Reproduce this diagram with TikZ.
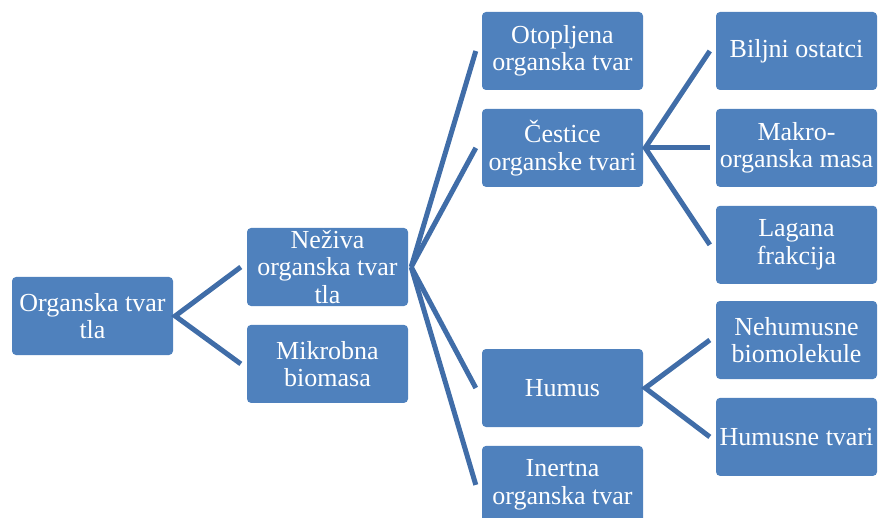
\documentclass[tikz,border=0pt]{standalone}
\usepackage{fontspec}
\setmainfont{Liberation Serif}
\usetikzlibrary{positioning}
\definecolor{boxblue}{RGB}{79,129,189}
\definecolor{lineblue}{RGB}{64,109,168}

\begin{document}
\begin{tikzpicture}
[
x=1pt, y=1pt,
block/.style ={rectangle, fill=boxblue, text=white, align=center, rounded corners=4pt, minimum width=161pt, minimum height=78pt, inner sep=1pt, font=\fontsize{26}{27.5}\selectfont},
line/.style  ={draw=lineblue, line width=5pt},
node distance = 18.5pt
]
\useasboundingbox (0,0) rectangle (882,517);
\clip (0,0) rectangle (882,517);

\node[block] (soil) at (92.5,201) {Organska tvar\\tla};

\node[block] (nonliving) at (327.5,250) {Neživa\\organska tvar\\tla};
\node[block, below=of nonliving] (microbial) {Mikrobna\\biomasa};

\node[block] (dissolved) at (562.5,466) {Otopljena\\organska tvar};
\node[block, below=of dissolved] (particles) {Čestice\\organske tvari};
\node[block] (humus) at (562.5,129) {Humus};
\node[block, below=of humus] (inert) {Inertna\\organska tvar};

\node[block] (residues) at (796.5,466) {Biljni ostatci};
\node[block, below=of residues] (macro) {Makro-\\organska masa};
\node[block, below=of macro] (light) {Lagana\\frakcija};
\node[block] (nonhumic) at (796.5,177) {Nehumusne\\biomolekule};
\node[block, below=of nonhumic] (humic) {Humusne tvari};

\path[line] ([xshift=-6pt]nonliving.west) -- ([xshift=2pt]soil.east) -- ([xshift=-6pt]microbial.west);

\path[line] ([xshift=-6pt]dissolved.west) -- ([xshift=3pt]nonliving.east);
\path[line] ([xshift=-6pt]particles.west) -- ([xshift=3pt]nonliving.east);
\path[line] ([xshift=-6pt]humus.west) -- ([xshift=3pt]nonliving.east);
\path[line] ([xshift=-6pt]inert.west) -- ([xshift=3pt]nonliving.east);

\path[line] ([xshift=-6pt]residues.west) -- ([xshift=2pt]particles.east) -- ([xshift=-6pt]light.west);
\path[line] ([xshift=2pt]particles.east) -- ([xshift=-6pt]macro.west);

\path[line] ([xshift=-6pt]nonhumic.west) -- ([xshift=2pt]humus.east) -- ([xshift=-6pt]humic.west);
\end{tikzpicture}
\end{document}
